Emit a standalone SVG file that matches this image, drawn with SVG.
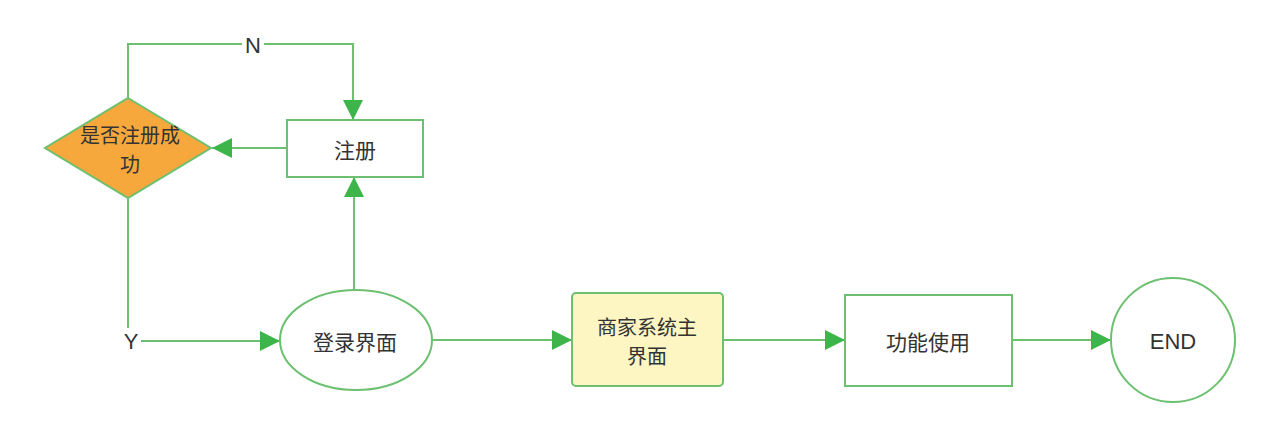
<svg xmlns="http://www.w3.org/2000/svg" width="1280" height="446" viewBox="0 0 1280 446">
<defs>
<marker id="arr" viewBox="0 0 10 10" refX="10" refY="5" markerWidth="20" markerHeight="20" markerUnits="userSpaceOnUse" orient="auto">
<path d="M0,0 L10,5 L0,10 z" fill="#3db54a"/>
</marker>
<style>
.edge{fill:none;stroke:#6cc070;stroke-width:2}
.node{stroke:#6cc070;stroke-width:2}
.t{font-family:"Noto Sans CJK SC","Liberation Sans",sans-serif;font-size:21px;fill:#333;text-anchor:middle;dominant-baseline:central}
.t2{font-family:"Noto Sans CJK SC","Liberation Sans",sans-serif;font-size:20px;fill:#333;text-anchor:middle;dominant-baseline:central}
.lbl{font-family:"Liberation Sans","Noto Sans CJK SC",sans-serif;font-size:22px;fill:#333;text-anchor:middle;dominant-baseline:central}
</style>
</defs>
<rect width="1280" height="446" fill="#fff"/>
<g id="connectors">
<path class="edge" d="M128,98 V44 H242"/>
<path class="edge" d="M264,44 H353 V120" marker-end="url(#arr)"/>
<path class="edge" d="M287,148 H212" marker-end="url(#arr)"/>
<path class="edge" d="M128,198 V328"/>
<path class="edge" d="M141,341 H280" marker-end="url(#arr)"/>
<path class="edge" d="M354,289 V177" marker-end="url(#arr)"/>
<path class="edge" d="M432,340 H572" marker-end="url(#arr)"/>
<path class="edge" d="M723,340 H845" marker-end="url(#arr)"/>
<path class="edge" d="M1012,340 H1111" marker-end="url(#arr)"/>
<text class="lbl" x="253" y="45">N</text>
<text class="lbl" x="131" y="341">Y</text>
</g>
<g id="decision">
<polygon class="node" points="128,98 211,148 128,198 45,148" fill="#f7a83c" stroke="#7cb342"/>
<text class="t2" x="130" y="134">是否注册成</text>
<text class="t2" x="130" y="163">功</text>
</g>
<g id="register">
<rect class="node" x="287" y="120" width="136" height="57" fill="#fff"/>
<text class="t" x="355" y="149">注册</text>
</g>
<g id="login">
<ellipse class="node" cx="356" cy="340" rx="76" ry="50" fill="#fff"/>
<text class="t" x="355" y="341">登录界面</text>
</g>
<g id="main">
<rect class="node" x="572" y="293" width="151" height="93" rx="4" fill="#fdf5c2"/>
<text class="t2" x="647" y="326">商家系统主</text>
<text class="t2" x="647" y="355">界面</text>
</g>
<g id="func">
<rect class="node" x="845" y="295" width="167" height="91" fill="#fff"/>
<text class="t" x="928" y="341">功能使用</text>
</g>
<g id="end">
<ellipse class="node" cx="1173" cy="340" rx="62" ry="62" fill="#fff"/>
<text class="lbl" x="1173" y="341">END</text>
</g>
</svg>
